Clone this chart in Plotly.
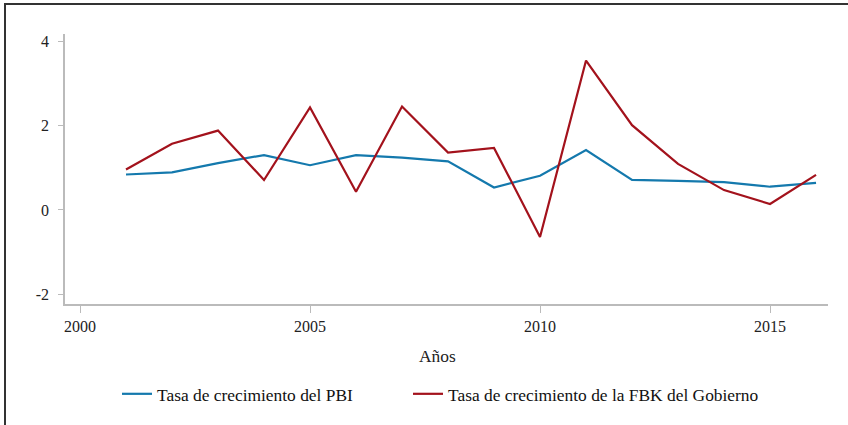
import plotly.graph_objects as go

years = list(range(2001, 2017))
pbi = [0.84, 0.89, 1.11, 1.30, 1.06, 1.30, 1.24, 1.15, 0.53, 0.81, 1.42, 0.71, 0.69, 0.66, 0.55, 0.64]
fbk = [0.96, 1.57, 1.88, 0.71, 2.43, 0.43, 2.45, 1.36, 1.47, -0.64, 3.54, 2.01, 1.09, 0.47, 0.14, 0.83]
names = ["Tasa de crecimiento del PBI", "Tasa de crecimiento de la FBK del Gobierno"]
y_ticks = [-2, 0, 2, 4]
y_labels = ["-2", "0", "2", "4"]
x_ticks = [2000, 2005, 2010, 2015]
x_title = "Años"

FONT = "'Liberation Serif', 'Times New Roman', Times, serif"
fig = go.Figure()
fig.add_trace(go.Scatter(x=years, y=pbi, mode="lines", name=names[0], legend="legend",
                         line=dict(color="#1479ad", width=2.2)))
fig.add_trace(go.Scatter(x=years, y=fbk, mode="lines", name=names[1], legend="legend2",
                         line=dict(color="#a3121c", width=2.2)))

L, R, T, B = 65, 20, 34, 121
pw, ph = 848 - L - R, 425 - T - B
def px(x):
    return (x - L) / pw
def py(y):
    return (425 - B - y) / ph

leg_common = dict(orientation="h", yanchor="top", xanchor="left", y=py(376),
                  font=dict(family=FONT, size=17.4, color="#111"), itemwidth=30,
                  bgcolor="rgba(0,0,0,0)")
fig.update_layout(
    width=848, height=425,
    margin=dict(l=L, r=R, t=T, b=B, autoexpand=False),
    paper_bgcolor="white", plot_bgcolor="white",
    font=dict(family=FONT, size=16, color="#222"),
    showlegend=True,
    legend=dict(x=px(117), **leg_common),
    legend2=dict(x=px(408), **leg_common),
    xaxis=dict(range=[1999.674, 2016.26], tickvals=x_ticks, showgrid=False, zeroline=False,
               automargin=False,
               showline=True, linecolor="#bbb", linewidth=1.5, ticks="outside", ticklen=7,
               tickcolor="#bbb", tickfont=dict(family=FONT, size=16, color="#222")),
    yaxis=dict(range=[-2.23, 4.17], tickvals=y_ticks, ticktext=y_labels, showgrid=False,
               zeroline=False, automargin=False, ticklabelstandoff=6,
               showline=True, linecolor="#bbb", linewidth=1.5, ticks="outside", ticklen=5,
               tickcolor="#bbb", tickfont=dict(family=FONT, size=16, color="#222")),
)

fig.add_annotation(text=x_title, xref="paper", yref="paper", x=px(437), y=py(356),
                   xanchor="center", yanchor="middle", showarrow=False,
                   font=dict(family=FONT, size=17.4, color="#222"))

fig.add_shape(type="rect", xref="paper", yref="paper",
              x0=px(5), x1=px(860), y0=py(440), y1=py(4),
              line=dict(color="#333", width=2), fillcolor="rgba(0,0,0,0)", layer="below")

fig.write_html("out.html", config={"displayModeBar": False},
               post_script="document.body.style.margin='0px';")
